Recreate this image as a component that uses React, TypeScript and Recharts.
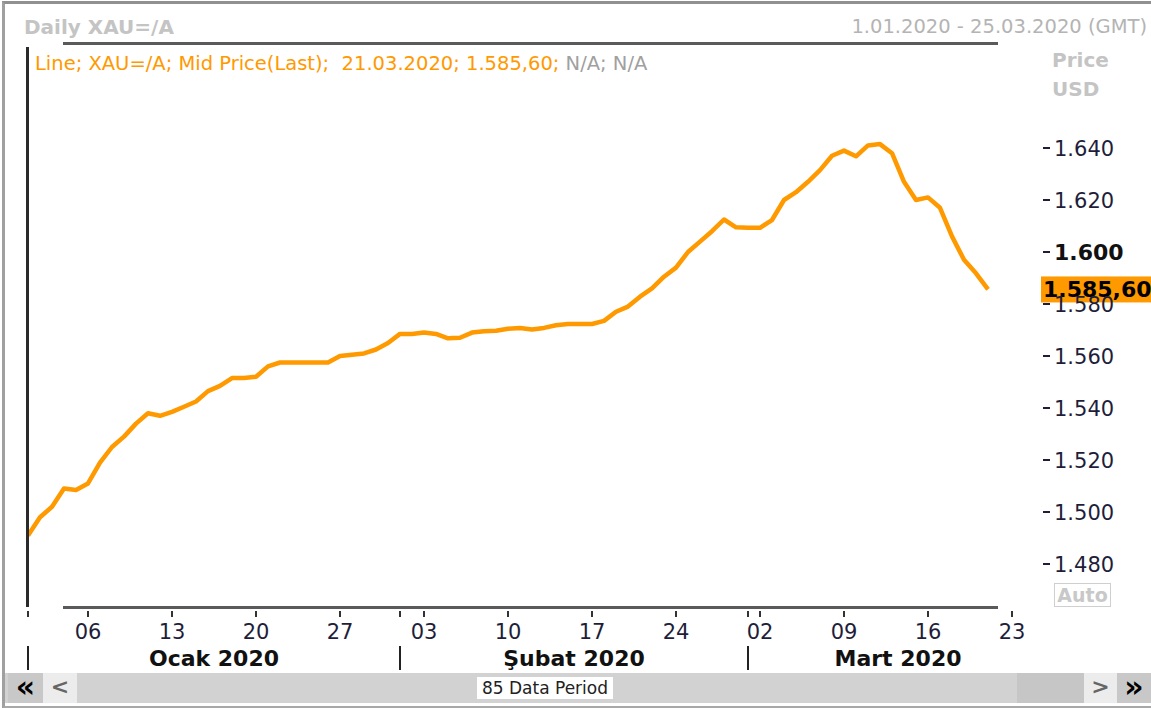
import React from 'react';
import { LineChart, Line, XAxis, YAxis, ReferenceLine } from 'recharts';

// daily mid price, 1 Jan 2020 .. 21 Mar 2020
const prices = [
  1491, 1498, 1502, 1509, 1508.5, 1511, 1519, 1525, 1529, 1534,
  1538, 1537, 1538.5, 1540.5, 1542.5, 1546.5, 1548.5, 1551.5, 1551.5, 1552,
  1556, 1557.5, 1557.5, 1557.5, 1557.5, 1557.5, 1560, 1560.5, 1561, 1562.5,
  1565, 1568.5, 1568.5, 1569, 1568.5, 1566.8, 1567, 1569, 1569.5, 1569.7,
  1570.5, 1570.8, 1570.2, 1570.8, 1571.8, 1572.3, 1572.3, 1572.3, 1573.5, 1577,
  1579, 1582.8, 1586, 1590.5, 1594, 1600, 1604, 1608, 1612.5, 1609.5,
  1609.3, 1609.3, 1612.3, 1620, 1623, 1627, 1631.5, 1637, 1639, 1636.8,
  1641, 1641.5, 1638, 1627, 1620, 1621, 1617, 1606, 1597, 1591.8,
  1585.6,
];
const lastDate = '21.03.2020';
const rangeLabel = '1.01.2020 - 25.03.2020 (GMT)';
const periodDays = 85; // 1.01 .. 25.03

const weekTicks = [5, 12, 19, 26, 33, 40, 47, 54, 61, 68, 75, 82];
const weekLabels = ['06', '13', '20', '27', '03', '10', '17', '24', '02', '09', '16', '23'];
const monthStarts = [0, 31, 60];
const monthMids = [15.5, 45.5, 72.5];
const monthLabels = ['Ocak 2020', 'Şubat 2020', 'Mart 2020'];
const priceTicks = [1480, 1500, 1520, 1540, 1560, 1580, 1600, 1620, 1640];
const majorTick = 1600;

const data = prices.map((price, day) => ({ day, price }));
const lastPrice = prices[prices.length - 1];
const allXTicks = [...weekTicks, ...monthStarts, ...monthMids].sort((a, b) => a - b);

const FONT = '"DejaVu Sans", Verdana, sans-serif';
const ORANGE = '#ff9900';
const AXIS_TEXT = '#1e1e3a';

const fmtInt = (n: number) => `${Math.floor(n / 1000)}.${String(Math.round(n) % 1000).padStart(3, '0')}`;
const fmtPrice = (n: number) => {
  const [int, dec] = n.toFixed(2).split('.');
  return `${fmtInt(Number(int))},${dec}`;
};

const XTick = ({ x, y, payload }: any) => {
  const v = payload.value;
  const wi = weekTicks.indexOf(v);
  if (wi >= 0) {
    return (
      <g>
        <line x1={x} x2={x} y1={y + 21} y2={y + 27} stroke="#333" strokeWidth={2} />
        <text x={x} y={y + 49} textAnchor="middle" fontSize={21} fontFamily={FONT} fill={AXIS_TEXT}>
          {weekLabels[wi]}
        </text>
      </g>
    );
  }
  if (monthStarts.includes(v)) {
    return (
      <g>
        <line x1={x} x2={x} y1={y + 21} y2={y + 27} stroke="#333" strokeWidth={2} />
        <line x1={x} x2={x} y1={y + 56} y2={y + 80} stroke="#222" strokeWidth={2} />
      </g>
    );
  }
  const mi = monthMids.indexOf(v);
  return (
    <text x={x} y={y + 76} textAnchor="middle" fontSize={22} fontWeight="bold" fontFamily={FONT} fill="#111">
      {monthLabels[mi]}
    </text>
  );
};

const YTick = ({ x, y, payload }: any) => {
  const major = payload.value === majorTick;
  return (
    <g>
      <line x1={x + 7} x2={x + 14} y1={y} y2={y} stroke={AXIS_TEXT} strokeWidth={2} />
      <text
        x={x + 18}
        y={y + 8}
        fontSize={major ? 22 : 21}
        fontWeight={major ? 'bold' : 'normal'}
        fontFamily={FONT}
        fill={major ? '#111' : AXIS_TEXT}
      >
        {fmtInt(payload.value)}
      </text>
    </g>
  );
};

const PriceTag = ({ viewBox }: any) => {
  const { x, y, width } = viewBox;
  const left = x + width + 5;
  return (
    <g>
      <rect x={left} y={y - 13} width={120} height={26} fill={ORANGE} />
      <text x={left + 2} y={y + 8} fontSize={22} fontWeight="bold" fontFamily={FONT} fill="#000">
        {fmtPrice(lastPrice)}
      </text>
    </g>
  );
};

const abs = (s: React.CSSProperties): React.CSSProperties => ({ position: 'absolute', ...s });

const btn = (left: number, width: number, bg: string, color: string, size: number): React.CSSProperties =>
  abs({ left, top: 673, width, height: 30, background: bg, fontSize: size, lineHeight: '28px', fontWeight: 'bold', textAlign: 'center', color });

export default function App() {
  return (
    <div style={abs({ left: 0, top: 0, width: 1151, height: 708, background: '#fff', overflow: 'hidden', fontFamily: FONT })}>
      {/* frame */}
      <div style={abs({ left: 2, top: 1, width: 1160, height: 702, borderTop: '3px solid #909090', borderLeft: '3px solid #a0a0a0', borderBottom: '3px solid #a8a8a8' })} />

      <div style={abs({ left: 24, top: 14, fontSize: 20, lineHeight: '26px', fontWeight: 'bold', color: '#c4c4c4' })}>Daily XAU=/A</div>
      <div style={abs({ right: 4, top: 14, fontSize: 19.5, lineHeight: '26px', color: '#b4b4b4' })}>{rangeLabel}</div>
      <div style={abs({ left: 63, top: 42, width: 935, height: 3, background: '#5a5a5a' })} />

      <div style={abs({ left: 35, top: 51, fontSize: 19.5, lineHeight: '26px', color: ORANGE, whiteSpace: 'pre' })}>
        {`Line; XAU=/A; Mid Price(Last);  ${lastDate}; ${fmtPrice(lastPrice)}; `}
        <span style={{ color: '#a0a0a0' }}>N/A; N/A</span>
      </div>

      <div style={abs({ left: 1052, top: 47, fontSize: 20, lineHeight: '26px', fontWeight: 'bold', color: '#c4c4c4' })}>Price</div>
      <div style={abs({ left: 1052, top: 76, fontSize: 20, lineHeight: '26px', fontWeight: 'bold', color: '#c4c4c4' })}>USD</div>

      <div style={abs({ left: 0, top: 0 })}>
        <LineChart width={1151} height={708} data={data} margin={{ top: 70, right: 15, bottom: 18, left: 28 }}>
          <XAxis
            dataKey="day"
            type="number"
            domain={[0, periodDays - 1]}
            ticks={allXTicks}
            interval={0}
            axisLine={false}
            tickLine={false}
            tickSize={0}
            tickMargin={0}
            height={100}
            tick={<XTick />}
          />
          <YAxis
            orientation="right"
            type="number"
            domain={[1470, 1670]}
            ticks={priceTicks}
            interval={0}
            axisLine={false}
            tickLine={false}
            tickSize={0}
            tickMargin={0}
            width={100}
            tick={<YTick />}
          />
          <Line
            type="linear"
            dataKey="price"
            stroke={ORANGE}
            strokeWidth={4.5}
            strokeLinejoin="round"
            dot={false}
            isAnimationActive={false}
          />
          <ReferenceLine y={lastPrice} stroke="none" label={<PriceTag />} />
        </LineChart>
      </div>

      {/* left bar and bottom axis line */}
      <div style={abs({ left: 26, top: 47, width: 3, height: 560, background: '#2a2a2a' })} />
      <div style={abs({ left: 63, top: 606, width: 935, height: 3, background: '#5a5a5a' })} />

      <div style={abs({ left: 1054, top: 583, width: 55, height: 22, border: '1px solid #cfcfcf', fontSize: 19, lineHeight: '22px', fontWeight: 'bold', color: '#c8c8c8', textAlign: 'center' })}>Auto</div>

      {/* scroll bar */}
      <div style={abs({ left: 5, top: 673, width: 1146, height: 30, background: '#d2d2d2' })} />
      <div style={btn(8, 35, '#c8c8c8', '#000', 30)}>«</div>
      <div style={btn(43, 34, '#ececec', '#666', 22)}>&lt;</div>
      <div style={abs({ left: 1017, top: 673, width: 67, height: 30, background: '#c6c6c6' })} />
      <div style={btn(1084, 33, '#ececec', '#666', 22)}>&gt;</div>
      <div style={btn(1117, 34, '#c8c8c8', '#000', 30)}>»</div>
      <div style={abs({ left: 477, top: 677, width: 136, height: 22, background: '#fff', fontSize: 17, lineHeight: '22px', textAlign: 'center', color: '#222' })}>
        {periodDays} Data Period
      </div>
    </div>
  );
}
